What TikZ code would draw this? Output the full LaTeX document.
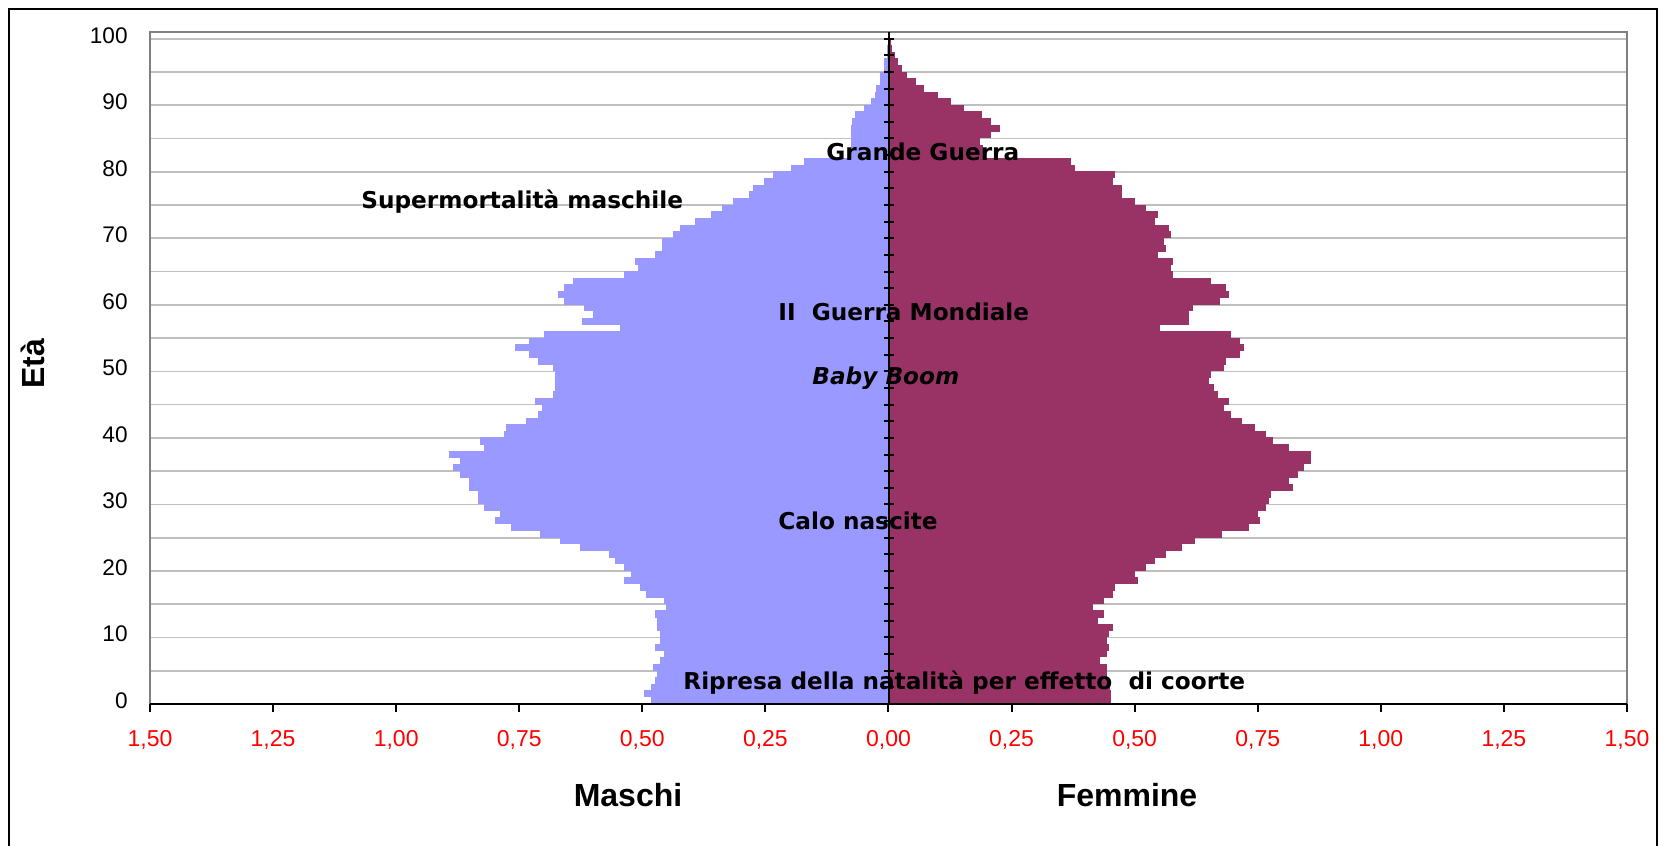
\documentclass[tikz,border=0pt]{standalone}
\usepackage{fontspec}
\setmainfont{Liberation Sans}
\newfontfamily\annotfont{DejaVu Sans}
\definecolor{malec}{HTML}{9999FF}
\definecolor{femc}{HTML}{993366}
\definecolor{gridc}{HTML}{C0C0C0}
\definecolor{borderc}{HTML}{808080}
\begin{document}
\begin{tikzpicture}[x=0.5pt,y=-0.5pt,
  gridline/.style={draw=gridc,line width=0.85pt},
  plotborder/.style={draw=borderc,line width=0.7pt},
  axisline/.style={draw=black,line width=1pt},
  malebar/.style={fill=malec},
  fembar/.style={fill=femc},
  agelab/.style={anchor=east,inner sep=0pt,font=\fontsize{11.3}{13}\selectfont},
  vallab/.style={anchor=center,inner sep=0pt,text=red,font=\fontsize{11.5}{13}\selectfont},
  annot/.style={anchor=base west,inner sep=0pt,font=\annotfont\bfseries\fontsize{11.6}{14}\selectfont},
  sexlab/.style={anchor=base,inner sep=0pt,font=\bfseries\fontsize{16}{19}\selectfont}]
\useasboundingbox (0,0) rectangle (1666,846);
\fill[white] (0,0) rectangle (1666,846);
% outer frame
\draw[black,line width=1pt] (9,846) -- (9,9) -- (1657,9) -- (1657,846);
% gridlines
\foreach \k in {5,10,...,100}
  \draw[gridline] (150,{704-\k*6.653}) -- (1627,{704-\k*6.653});
% male bars
\foreach \v [count=\i from 0] in {0.483,0.498,0.483,0.475,0.471,0.479,0.465,0.457,0.475,0.465,
 0.465,0.471,0.471,0.475,0.453,0.457,0.494,0.506,0.538,0.524,
 0.538,0.556,0.569,0.628,0.668,0.709,0.768,0.800,0.790,0.823,
 0.835,0.835,0.853,0.853,0.871,0.885,0.871,0.894,0.823,0.831,
 0.782,0.778,0.737,0.712,0.705,0.719,0.682,0.678,0.678,0.678,
 0.682,0.712,0.731,0.760,0.731,0.701,0.546,0.623,0.601,0.619,
 0.660,0.672,0.660,0.642,0.538,0.510,0.516,0.475,0.461,0.461,
 0.439,0.424,0.394,0.361,0.339,0.317,0.284,0.276,0.254,0.236,
 0.199,0.173,0.077,0.077,0.077,0.077,0.077,0.075,0.069,0.051,
 0.037,0.028,0.027,0.018,0.018,0.0095,0.0095,0.005,0.004,0.003,0.002}
  \fill[malebar] ({889-\v*492.4},{704-(\i+1)*6.653-0.4}) rectangle (889,{704-\i*6.653});
% female bars
\foreach \v [count=\i from 0] in {0.451,0.451,0.449,0.445,0.443,0.443,0.428,0.443,0.447,0.443,
 0.447,0.455,0.424,0.437,0.414,0.437,0.455,0.459,0.506,0.500,
 0.522,0.540,0.563,0.595,0.621,0.676,0.731,0.753,0.749,0.766,
 0.772,0.776,0.820,0.812,0.831,0.843,0.857,0.857,0.812,0.780,
 0.766,0.743,0.717,0.695,0.680,0.690,0.668,0.660,0.650,0.654,
 0.680,0.684,0.713,0.721,0.713,0.695,0.550,0.609,0.609,0.617,
 0.672,0.690,0.684,0.654,0.577,0.573,0.577,0.546,0.563,0.558,
 0.573,0.569,0.540,0.546,0.522,0.500,0.473,0.473,0.455,0.459,
 0.378,0.370,0.190,0.190,0.185,0.207,0.225,0.207,0.189,0.152,
 0.126,0.100,0.071,0.055,0.037,0.026,0.018,0.012,0.006,0.004,0.002}
  \fill[fembar] (889,{704-(\i+1)*6.653-0.4}) rectangle ({889+\v*492.4},{704-\i*6.653});
% plot border
\draw[plotborder] (150,704) -- (150,32) -- (1627,32) -- (1627,704);
% central axis with ticks
\draw[axisline] (889,32) -- (889,704);
\foreach \k in {0,2.5,...,100}
  \draw[axisline] (884,{704-\k*6.653}) -- (894,{704-\k*6.653});
% bottom axis with ticks
\draw[black,line width=1.2pt] (150,704) -- (1627,704);
\foreach \j in {0,...,12}
  \draw[axisline] ({150+\j*123.08},704) -- ({150+\j*123.08},712);
% age labels
\foreach \a in {0,10,...,100}
  \node[agelab] (age\a) at (128,{704-(\a+0.5)*6.653}) {\a};
% value labels
\foreach \lab [count=\j from 0] in {{1,50},{1,25},{1,00},{0,75},{0,50},{0,25},{0,00},{0,25},{0,50},{0,75},{1,00},{1,25},{1,50}}
  \node[vallab] (val\j) at ({150+\j*123.08},740) {\lab};
% axis titles
\node[sexlab] (maschi) at (628,806) {Maschi};
\node[sexlab] (femmine) at (1127,806) {Femmine};
\node[anchor=center,inner sep=0pt,rotate=90,font=\bfseries\fontsize{16}{19}\selectfont] (eta) at (33,364) {Età};
% annotations
\node[annot] (gg) at (826,160) {Grande Guerra};
\node[annot] (sm) at (361,208) {Supermortalità maschile};
\node[annot] (gm) at (778,320.5) {II\ \ Guerra Mondiale};
\node[annot,font=\annotfont\bfseries\itshape\fontsize{11.6}{14}\selectfont] (bb) at (812,384) {Baby Boom};
\node[annot] (cn) at (778,529) {Calo nascite};
\node[annot] (rn) at (683,689) {Ripresa della natalità per effetto\ \ di coorte};
\end{tikzpicture}
\end{document}
